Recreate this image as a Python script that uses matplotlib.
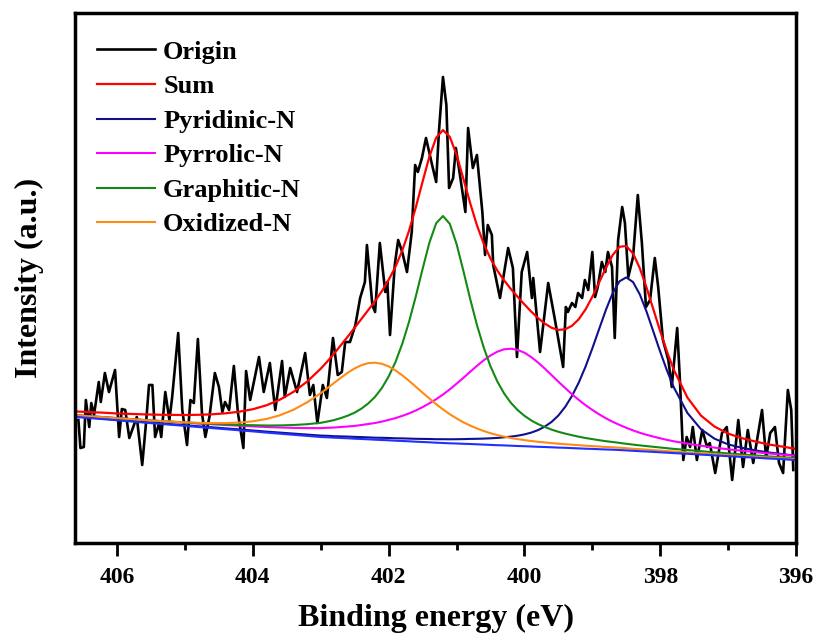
import numpy as np
import matplotlib
matplotlib.use("Agg")
import matplotlib.pyplot as plt

plt.rcParams['font.family'] = ['Liberation Serif', 'DejaVu Serif']
plt.rcParams['font.weight'] = 'bold'

# measured N 1s spectrum (binding energy in eV, intensity in a.u.)
raw_energy = [
    406.57, 406.54, 406.49, 406.46, 406.41, 406.38, 406.34, 406.27, 406.24, 406.18,
    406.12, 406.03, 405.97, 405.93, 405.88, 405.82, 405.71, 405.63, 405.57, 405.53,
    405.48, 405.44, 405.38, 405.35, 405.29, 405.23, 405.19, 405.10, 405.04, 404.97,
    404.92, 404.87, 404.81, 404.75, 404.70, 404.64, 404.56, 404.50, 404.45, 404.41,
    404.35, 404.28, 404.22, 404.14, 404.10, 404.04, 403.91, 403.84, 403.75, 403.67,
    403.57, 403.53, 403.45, 403.35, 403.23, 403.16, 403.11, 403.05, 402.97, 402.91,
    402.82, 402.75, 402.69, 402.64, 402.57, 402.49, 402.42, 402.35, 402.32, 402.24,
    402.20, 402.13, 402.05, 402.02, 401.98, 401.91, 401.86, 401.80, 401.73, 401.66,
    401.61, 401.57, 401.51, 401.45, 401.36, 401.30, 401.26, 401.20, 401.15, 401.11,
    401.05, 401.01, 400.95, 400.87, 400.83, 400.76, 400.70, 400.62, 400.58, 400.54,
    400.48, 400.46, 400.36, 400.24, 400.17, 400.11, 400.04, 399.96, 399.89, 399.87,
    399.77, 399.65, 399.55, 399.43, 399.39, 399.36, 399.30, 399.25, 399.21, 399.15,
    399.11, 399.06, 399.00, 398.96, 398.92, 398.86, 398.81, 398.77, 398.71, 398.67,
    398.62, 398.56, 398.52, 398.47, 398.40, 398.33, 398.27, 398.21, 398.15, 398.08,
    398.03, 397.96, 397.88, 397.83, 397.75, 397.71, 397.66, 397.61, 397.56, 397.52,
    397.46, 397.38, 397.31, 397.27, 397.19, 397.09, 397.02, 396.94, 396.85, 396.78,
    396.71, 396.63, 396.50, 396.44, 396.38, 396.31, 396.25, 396.19, 396.12, 396.07,
    396.04]
raw_counts = [
    123, 95, 96, 143, 116, 140, 128, 161, 141, 170,
    151, 173, 106, 134, 133, 105, 126, 78, 123, 158,
    158, 106, 120, 106, 151, 123, 145, 210, 133, 98,
    143, 140, 204, 130, 106, 126, 170, 156, 131, 141,
    133, 177, 130, 95, 172, 143, 186, 151, 180, 133,
    182, 146, 175, 151, 190, 148, 158, 120, 158, 145,
    205, 168, 171, 201, 201, 218, 245, 261, 298, 238,
    231, 300, 251, 261, 208, 278, 303, 291, 271, 311,
    378, 371, 385, 405, 378, 361, 411, 466, 438, 355,
    365, 395, 368, 331, 415, 375, 388, 331, 288, 318,
    308, 278, 245, 295, 275, 186, 271, 291, 245, 265,
    191, 260, 223, 176, 236, 231, 240, 236, 250, 245,
    263, 253, 291, 246, 256, 281, 271, 291, 276, 205,
    303, 336, 320, 266, 286, 348, 300, 236, 243, 285,
    256, 203, 183, 156, 215, 163, 83, 106, 96, 116,
    83, 113, 96, 100, 70, 110, 116, 63, 123, 76,
    113, 80, 133, 85, 110, 116, 80, 70, 153, 133,
    73]

# fitted curves on a common energy grid
fit_energy = [
    406.6, 406.4, 406.2, 406.0, 405.8, 405.6, 405.4, 405.2, 405.0, 404.8,
    404.6, 404.4, 404.2, 404.0, 403.8, 403.6, 403.4, 403.2, 403.0,
    402.9, 402.8, 402.7, 402.6, 402.5, 402.4, 402.3, 402.2, 402.1, 402.0,
    401.9, 401.8, 401.7, 401.6, 401.5, 401.4, 401.3, 401.2, 401.1, 401.0,
    400.9, 400.8, 400.7, 400.6, 400.5, 400.4, 400.3, 400.2, 400.1, 400.0,
    399.9, 399.8, 399.7, 399.6, 399.5, 399.4, 399.3, 399.2, 399.1, 399.0,
    398.9, 398.8, 398.7, 398.6, 398.5, 398.4, 398.3, 398.2, 398.1, 398.0,
    397.9, 397.8, 397.6, 397.4, 397.2, 397.0, 396.8, 396.6, 396.4, 396.2, 396.0]
background = [
    126.0, 124.9, 123.8, 122.7, 121.6, 120.4, 119.3, 118.2, 117.1, 116.0,
    114.9, 113.8, 112.7, 111.6, 110.4, 109.3, 108.2, 107.1, 106.0,
    105.7, 105.3, 105.0, 104.7, 104.3, 104.0, 103.7, 103.3, 103.0, 102.7,
    102.3, 102.0, 101.7, 101.3, 101.0, 100.7, 100.3, 100.0, 99.7, 99.5,
    99.2, 99.0, 98.7, 98.4, 98.1, 97.8, 97.6, 97.3, 97.0, 96.8,
    96.5, 96.2, 96.0, 95.7, 95.4, 95.2, 94.9, 94.6, 94.3, 94.1,
    93.8, 93.5, 93.3, 93.0, 92.6, 92.2, 91.8, 91.5, 91.1, 90.7,
    90.3, 89.9, 89.2, 88.4, 87.6, 86.8, 86.1, 85.3, 84.5, 83.8, 83.0]
# component heights above the background
pyridinic = [
    0.4, 0.5, 0.5, 0.5, 0.5, 0.6, 0.6, 0.6, 0.7, 0.7,
    0.8, 0.8, 0.9, 0.9, 1.0, 1.1, 1.2, 1.3, 1.4,
    1.5, 1.5, 1.6, 1.7, 1.8, 1.9, 1.9, 2.0, 2.2, 2.3,
    2.4, 2.6, 2.7, 2.9, 3.1, 3.3, 3.5, 3.8, 4.0, 4.3,
    4.7, 5.1, 5.5, 6.0, 6.6, 7.3, 8.1, 9.1, 10.3, 11.8,
    13.9, 16.7, 20.4, 25.4, 32.1, 40.9, 52.1, 65.8, 82.1, 100.5,
    120.1, 139.6, 156.7, 168.7, 173.0, 168.7, 156.7, 139.6, 120.1, 100.5,
    82.1, 65.8, 40.9, 25.4, 16.7, 11.8, 9.1, 7.3, 6.0, 5.1, 4.3]
pyrrolic = [
    1.8, 2.0, 2.1, 2.2, 2.4, 2.6, 2.8, 3.0, 3.2, 3.5,
    3.8, 4.2, 4.6, 5.0, 5.6, 6.2, 6.9, 7.8, 8.9,
    9.5, 10.2, 11.0, 11.8, 12.8, 14.0, 15.3, 16.7, 18.4, 20.4,
    22.6, 25.1, 27.9, 31.2, 34.9, 39.0, 43.5, 48.5, 53.9, 59.8,
    65.9, 72.2, 78.4, 84.3, 89.4, 93.5, 96.1, 97.0, 96.1, 93.5,
    89.4, 84.3, 78.4, 72.2, 65.9, 59.8, 53.9, 48.5, 43.5, 39.0,
    34.9, 31.2, 27.9, 25.1, 22.6, 20.4, 18.4, 16.7, 15.3, 14.0,
    12.8, 11.8, 10.2, 8.9, 7.8, 6.9, 6.2, 5.6, 5.0, 4.6, 4.2]
graphitic = [
    1.7, 1.8, 2.0, 2.1, 2.3, 2.5, 2.8, 3.1, 3.4, 3.8,
    4.2, 4.8, 5.4, 6.2, 7.1, 8.3, 9.8, 11.7, 14.2,
    15.8, 17.7, 20.0, 22.7, 26.1, 30.4, 35.9, 42.9, 52.0, 63.8,
    78.6, 97.1, 119.4, 145.3, 173.1, 199.6, 219.5, 227.0, 219.5, 199.6,
    173.1, 145.3, 119.4, 97.1, 78.6, 63.8, 52.0, 42.9, 35.9, 30.4,
    26.1, 22.7, 20.0, 17.7, 15.8, 14.2, 12.9, 11.7, 10.7, 9.8,
    9.0, 8.3, 7.7, 7.1, 6.6, 6.2, 5.8, 5.4, 5.1, 4.8,
    4.5, 4.2, 3.8, 3.4, 3.1, 2.8, 2.5, 2.3, 2.1, 2.0, 1.8]
oxidized = [
    1.6, 1.7, 1.9, 2.0, 2.3, 2.5, 2.8, 3.2, 3.6, 4.2,
    5.0, 6.1, 7.7, 10.1, 13.6, 18.5, 25.1, 33.6, 43.8,
    49.3, 55.0, 60.5, 65.7, 70.3, 73.9, 76.2, 77.0, 76.2, 73.9,
    70.3, 65.7, 60.5, 55.0, 49.3, 43.8, 38.5, 33.6, 29.1, 25.1,
    21.5, 18.5, 15.8, 13.6, 11.7, 10.1, 8.8, 7.7, 6.9, 6.1,
    5.5, 5.0, 4.6, 4.2, 3.9, 3.6, 3.4, 3.2, 3.0, 2.8,
    2.7, 2.5, 2.4, 2.3, 2.2, 2.0, 2.0, 1.9, 1.8, 1.7,
    1.6, 1.6, 1.4, 1.3, 1.2, 1.1, 1.0, 1.0, 0.9, 0.9, 0.8]

components = [
    ('Pyridinic-N', pyridinic, '#10108c'),
    ('Pyrrolic-N', pyrrolic, '#ff00ff'),
    ('Graphitic-N', graphitic, '#138a13'),
    ('Oxidized-N', oxidized, '#ff8a14'),
]

bg = np.array(background)
total = bg + sum(np.array(c[1]) for c in components)

fig = plt.figure(figsize=(8.18, 6.42), dpi=100)
ax = fig.add_axes([75 / 818, 99 / 642, 721 / 818, 530 / 642])

ax.plot(raw_energy, raw_counts, color='black', lw=1.9, label='Origin')
ax.plot(fit_energy, total, color='#ff0000', lw=1.6, label='Sum')
for name, vals, col in components:
    ax.plot(fit_energy, bg + np.array(vals), color=col, lw=1.5, label=name)
ax.plot(fit_energy, bg, color='#2030ff', lw=1.5)

ax.set_xlim(406.62, 396)
ax.set_ylim(0, 530)
ax.set_yticks([])
ax.set_xticks([406, 404, 402, 400, 398, 396])
ax.set_xticks([405, 403, 401, 399, 397], minor=True)
ax.tick_params(axis='x', which='major', direction='out', length=9, width=2,
               labelsize=17, pad=8)
ax.tick_params(axis='x', which='minor', direction='out', length=5, width=2)
for sp in ax.spines.values():
    sp.set_linewidth(2.5)

ax.set_xlabel('Binding energy (eV)', fontsize=23, fontweight='bold', labelpad=12)
ax.set_ylabel('Intensity (a.u.)', fontsize=23, fontweight='bold', labelpad=22)

ax.legend(loc='upper left', bbox_to_anchor=(84 / 818, 1 - 27 / 642),
          bbox_transform=fig.transFigure, frameon=False, fontsize=19,
          handlelength=2.2, handletextpad=0.3, labelspacing=0.42, borderpad=0)

fig.savefig('out.png', dpi=100)
